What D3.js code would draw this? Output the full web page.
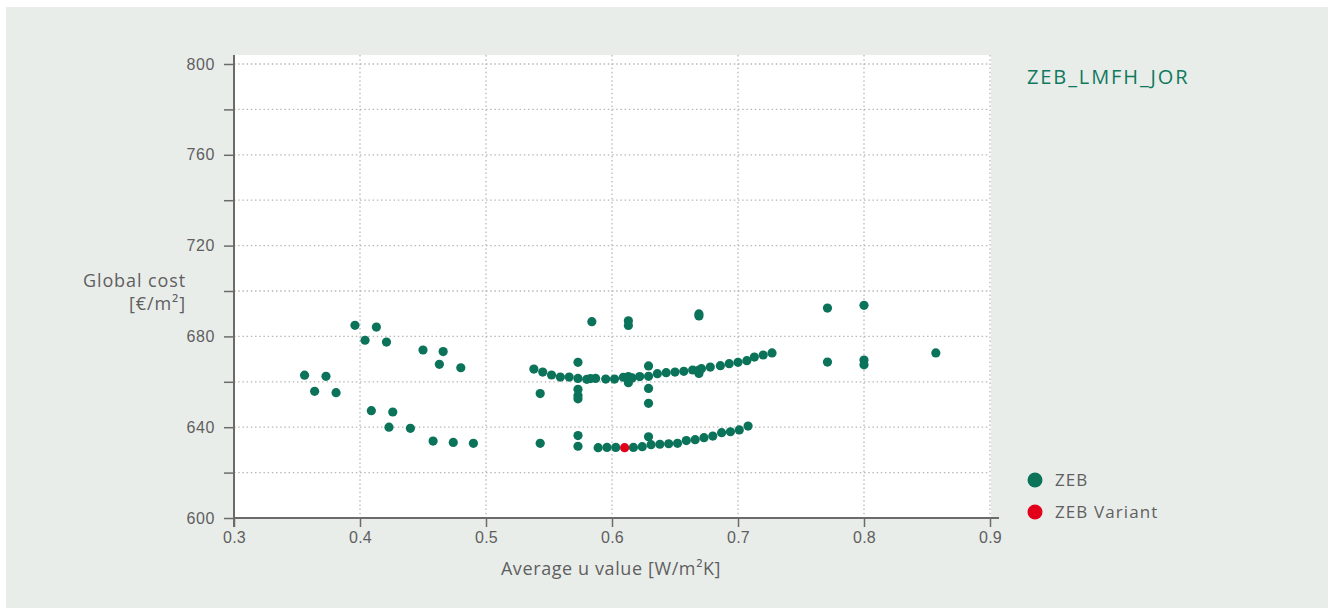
<!DOCTYPE html>
<html>
<head>
<meta charset="utf-8">
<script src="https://cdn.jsdelivr.net/npm/d3@7"></script>
<style>
  html, body { margin: 0; padding: 0; background: #fff; }
  svg { display: block; font-family: "Open Sans", "Noto Sans", sans-serif; }
</style>
</head>
<body>
<div id="chart"></div>
<script>
const chartTitle = "ZEB_LMFH_JOR";
const seriesNames = ["ZEB", "ZEB Variant"];
const seriesColors = ["#0b7359", "#e2001a"];

// ZEB points: average u value / global cost
const zebU = [
  0.396, 0.413, 0.404, 0.421, 0.450, 0.466, 0.463, 0.480,
  0.356, 0.373, 0.364, 0.381, 0.409, 0.426, 0.423, 0.440, 0.458, 0.474, 0.490,
  0.584, 0.613, 0.613, 0.669, 0.669,
  0.538, 0.545, 0.552, 0.559, 0.566, 0.573, 0.580, 0.583, 0.587, 0.595, 0.602,
  0.609, 0.613, 0.616, 0.613, 0.622, 0.629, 0.629, 0.629, 0.629,
  0.636, 0.643, 0.650, 0.657, 0.664, 0.669, 0.669, 0.671, 0.678, 0.686, 0.693,
  0.700, 0.707, 0.713, 0.720, 0.727,
  0.573, 0.543, 0.573, 0.573, 0.573,
  0.543, 0.573, 0.573, 0.589, 0.596, 0.603, 0.617, 0.624, 0.629, 0.631, 0.638,
  0.645, 0.652, 0.659, 0.666, 0.673, 0.680, 0.687, 0.694, 0.701, 0.708,
  0.771, 0.800, 0.771, 0.800, 0.800, 0.857
];
const zebCost = [
  684.9, 684.1, 678.3, 677.5, 674.0, 673.3, 667.7, 666.2,
  662.9, 662.4, 655.8, 655.2, 647.3, 646.7, 640.0, 639.5, 633.9, 633.3, 632.9,
  686.5, 686.9, 684.8, 689.9, 689.0,
  665.6, 664.3, 663.0, 662.1, 662.1, 661.5, 661.1, 661.4, 661.5, 661.2, 661.2,
  662.0, 662.3, 661.7, 659.6, 662.3, 662.4, 667.0, 657.1, 650.5,
  663.6, 664.0, 664.3, 664.6, 665.2, 665.2, 663.7, 665.8, 666.5, 667.1, 668.0,
  668.6, 669.3, 670.9, 671.8, 672.7,
  668.6, 654.8, 656.7, 654.0, 652.5,
  632.9, 636.3, 631.6, 631.0, 631.1, 631.1, 631.1, 631.4, 635.8, 632.3, 632.5,
  632.7, 632.9, 634.1, 634.5, 635.4, 636.1, 637.6, 638.0, 638.8, 640.5,
  692.5, 693.7, 668.7, 669.6, 667.5, 672.7
];
// ZEB Variant point
const variantU = [0.610];
const variantCost = [631.0];

const xTicks = [0.3, 0.4, 0.5, 0.6, 0.7, 0.8, 0.9];
const yTicks = [600, 620, 640, 660, 680, 700, 720, 740, 760, 780, 800];
const yLabelTicks = [600, 640, 680, 720, 760, 800];

const width = 1328, height = 610;
const plotLeft = 234, plotRight = 990, plotTop = 64, plotBottom = 518;
const textColor = "#5f5f5f";

const svg = d3.select("#chart").append("svg")
  .attr("width", width)
  .attr("height", height);

// panel background
svg.append("rect")
  .attr("x", 6).attr("y", 7)
  .attr("width", width - 6).attr("height", height - 9)
  .attr("fill", "#e9edea");

const x = d3.scaleLinear().domain([0.3, 0.9]).range([plotLeft, plotRight]);
const y = d3.scaleLinear().domain([600, 800]).range([plotBottom, plotTop]);

// white plot area
svg.append("rect")
  .attr("x", plotLeft).attr("y", 55)
  .attr("width", plotRight - plotLeft + 1).attr("height", plotBottom - 55)
  .attr("fill", "#fff");

// grid
svg.append("g").selectAll("line")
  .data(yTicks.slice(1))
  .join("line")
  .attr("x1", plotLeft).attr("x2", plotRight)
  .attr("y1", d => y(d)).attr("y2", d => y(d))
  .attr("stroke", "#b8b8b8")
  .attr("stroke-width", 1.3)
  .attr("stroke-dasharray", "1.5,2.7");

svg.append("g").selectAll("line")
  .data(xTicks.slice(1))
  .join("line")
  .attr("x1", d => x(d)).attr("x2", d => x(d))
  .attr("y1", 55).attr("y2", plotBottom)
  .attr("stroke", "#b8b8b8")
  .attr("stroke-width", 1.3)
  .attr("stroke-dasharray", "1.5,2.7");

// x axis
const xAxis = svg.append("g")
  .attr("transform", `translate(0,${plotBottom})`)
  .call(d3.axisBottom(x).tickValues(xTicks).tickSize(9).tickSizeOuter(0).tickFormat(d3.format(".1f")));
xAxis.select(".domain").remove();
xAxis.append("line")
  .attr("x1", plotLeft - 1).attr("x2", 999)
  .attr("stroke", "#6b6b6b").attr("stroke-width", 2);
xAxis.selectAll(".tick line").attr("stroke", "#6b6b6b").attr("stroke-width", 1.5);
xAxis.selectAll(".tick text")
  .attr("fill", textColor)
  .attr("y", 25)
  .attr("dy", 0)
  .style("font-size", "16px")
  .style("letter-spacing", "0.2px");

// y axis
const yAxis = svg.append("g")
  .attr("transform", `translate(${plotLeft},0)`)
  .call(d3.axisLeft(y).tickValues(yTicks).tickSize(10).tickSizeOuter(0)
    .tickFormat(d => yLabelTicks.includes(d) ? d : ""));
yAxis.select(".domain").remove();
yAxis.append("line")
  .attr("y1", 55).attr("y2", 527)
  .attr("stroke", "#6b6b6b").attr("stroke-width", 2);
yAxis.selectAll(".tick line").attr("stroke", "#6b6b6b").attr("stroke-width", 1.5);
yAxis.selectAll(".tick text")
  .attr("fill", textColor)
  .attr("x", -19)
  .style("font-size", "16px")
  .style("letter-spacing", "0.6px");

// axis titles
svg.append("text")
  .attr("x", 611).attr("y", 575)
  .attr("text-anchor", "middle")
  .attr("fill", textColor)
  .style("font-size", "18px")
  .style("letter-spacing", "0.6px")
  .text("Average u value [W/m²K]");

const yTitle = svg.append("text")
  .attr("text-anchor", "end")
  .attr("fill", textColor)
  .style("font-size", "18px")
  .style("letter-spacing", "0.9px");
yTitle.append("tspan").attr("x", 186).attr("y", 287).text("Global cost");
yTitle.append("tspan").attr("x", 186).attr("y", 310).text("[€/m²]");

// points
svg.append("g").selectAll("circle")
  .data(zebU.map((u, i) => [u, zebCost[i]]))
  .join("circle")
  .attr("cx", d => x(d[0]))
  .attr("cy", d => y(d[1]))
  .attr("r", 4.6)
  .attr("fill", seriesColors[0]);

svg.append("g").selectAll("circle")
  .data(variantU.map((u, i) => [u, variantCost[i]]))
  .join("circle")
  .attr("cx", d => x(d[0]))
  .attr("cy", d => y(d[1]))
  .attr("r", 4.6)
  .attr("fill", seriesColors[1]);

// title
svg.append("text")
  .attr("x", 1027).attr("y", 84)
  .attr("fill", "#10795d")
  .style("font-size", "20px")
  .style("letter-spacing", "1.9px")
  .text(chartTitle);

// legend
const legend = svg.append("g").selectAll("g")
  .data(seriesNames)
  .join("g")
  .attr("transform", (d, i) => `translate(1035,${480 + i * 32})`);
legend.append("circle")
  .attr("r", 7.5)
  .attr("fill", (d, i) => seriesColors[i]);
legend.append("text")
  .attr("x", 20).attr("y", 6)
  .attr("fill", textColor)
  .style("font-size", "17px")
  .style("letter-spacing", "1.1px")
  .text(d => d);
</script>
</body>
</html>
